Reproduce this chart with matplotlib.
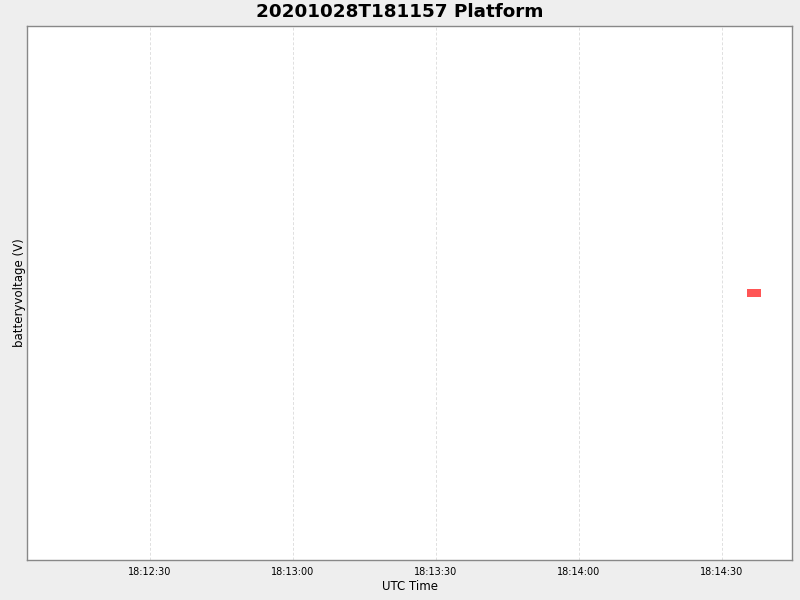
import matplotlib
matplotlib.use("Agg")
import matplotlib.pyplot as plt
import matplotlib.dates as mdates
from matplotlib.path import Path
from datetime import datetime

# data
times = [datetime(2020, 10, 28, 18, 14, 36, 700000)]
battery_voltage = [12.6]
tick_times = [datetime(2020, 10, 28, 18, 12, 30), datetime(2020, 10, 28, 18, 13, 0),
              datetime(2020, 10, 28, 18, 13, 30), datetime(2020, 10, 28, 18, 14, 0),
              datetime(2020, 10, 28, 18, 14, 30)]
x_range = (datetime(2020, 10, 28, 18, 12, 4, 200000), datetime(2020, 10, 28, 18, 14, 44, 700000))

fig = plt.figure(figsize=(8, 6), dpi=100, facecolor='#eeeeee')
ax = fig.add_axes([0.03375, 0.0667, 0.95625, 0.89])
ax.set_facecolor('white')

rect = Path([(-1, -0.5), (1, -0.5), (1, 0.5), (-1, 0.5), (-1, -0.5)],
            [Path.MOVETO, Path.LINETO, Path.LINETO, Path.LINETO, Path.CLOSEPOLY])
ax.plot(times, battery_voltage, linestyle='none', marker=rect, markersize=10.5,
        color='#ff5555', markeredgewidth=0)

ax.set_xlim(*x_range)
v = battery_voltage[0]
ax.set_ylim(v - 1, v + 1)
ax.set_xticks(tick_times)
ax.xaxis.set_major_formatter(mdates.DateFormatter('%H:%M:%S'))
ax.tick_params(axis='x', length=0, labelsize=7, pad=5)
ax.set_yticks([])
ax.grid(True, axis='x', color='#e0e0e0', linestyle=(0, (3, 2)), linewidth=0.7)

for s in ax.spines.values():
    s.set_color('#888888')
    s.set_linewidth(1)

fig.text(0.5, 0.98, '20201028T181157 Platform', fontsize=13.2, fontweight='bold',
         ha='center', va='center')
ax.set_xlabel('UTC Time', fontsize=8.5, labelpad=2)
ax.set_ylabel('batteryvoltage (V)', fontsize=8.5, labelpad=1)

fig.savefig('out.png', dpi=100, facecolor=fig.get_facecolor())
